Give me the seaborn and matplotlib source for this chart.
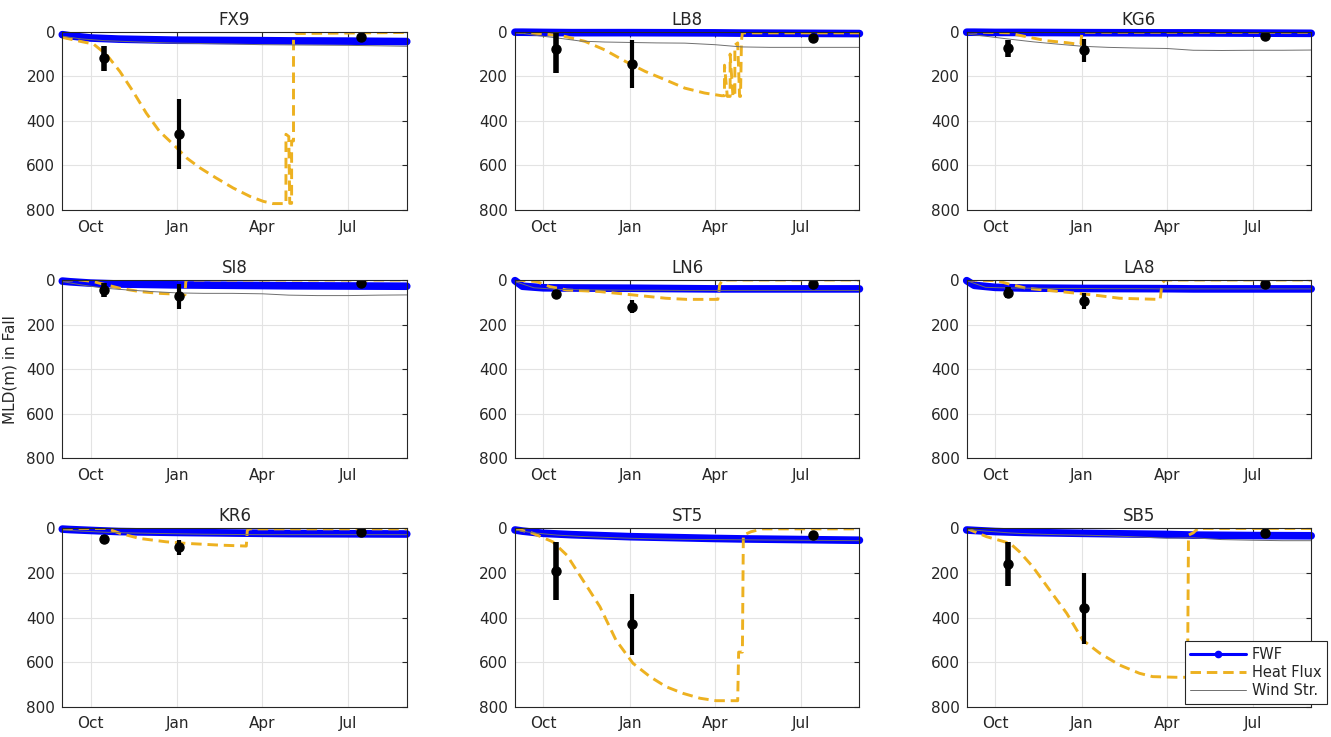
import matplotlib
matplotlib.use("Agg")
import matplotlib.pyplot as plt
from matplotlib.lines import Line2D
import seaborn as sns

# ---------------- data (days since 1 Sep) ----------------
STATIONS = ["FX9", "LB8", "KG6", "SI8", "LN6", "LA8", "KR6", "ST5", "SB5"]
MONTH_TICKS = [30, 122, 212, 303]
MONTH_LABELS = ["Oct", "Jan", "Apr", "Jul"]
DEPTH_TICKS = [0, 200, 400, 600, 800]

# Freshwater-flux (FWF) run
FWF_DAYS = [0, 8, 30, 60, 122, 212, 240, 303, 365]
FWF_FX9 = [13, 18, 28, 33, 38, 40, 41, 42, 44]
FWF_LB8 = [2, 2, 3, 4, 4, 5, 6, 7, 8]
FWF_KG6 = [2, 2, 3, 3, 4, 5, 5, 6, 7]
FWF_SI8 = [5, 8, 14, 18, 22, 25, 26, 27, 28]
FWF_LN6 = [3, 28, 35, 36, 37, 40, 40, 40, 40]
FWF_LA8 = [3, 24, 33, 36, 38, 39, 40, 40, 40]
FWF_KR6 = [3, 5, 9, 14, 18, 22, 23, 24, 25]
FWF_ST5 = [7, 12, 22, 28, 37, 45, 47, 50, 53]
FWF_SB5 = [7, 9, 14, 18, 22, 27, 30, 32, 33]

# Wind-stress run
WIND_DAYS = [0, 20, 45, 70, 95, 122, 150, 180, 212, 240, 270, 303, 335, 365]
WIND_FX9 = [20, 32, 40, 44, 48, 51, 53, 55, 58, 59, 60, 61, 63, 65]
WIND_LB8 = [2, 15, 28, 42, 46, 48, 50, 51, 58, 68, 70, 70, 70, 70]
WIND_KG6 = [10, 20, 33, 45, 55, 65, 70, 73, 75, 83, 84, 83, 83, 82]
WIND_SI8 = [7, 22, 37, 45, 52, 58, 60, 60, 62, 68, 70, 70, 68, 67]
WIND_LN6 = [7, 35, 42, 44, 45, 46, 46, 47, 47, 47, 47, 47, 47, 47]
WIND_LA8 = [3, 33, 36, 37, 38, 38, 39, 39, 40, 40, 40, 40, 40, 40]
WIND_KR6 = [7, 12, 17, 20, 22, 24, 26, 27, 28, 28, 28, 28, 28, 28]
WIND_ST5 = [7, 20, 30, 36, 40, 44, 47, 49, 50, 51, 52, 53, 54, 55]
WIND_SB5 = [4, 12, 20, 25, 28, 30, 33, 38, 44, 42, 50, 53, 55, 55]

# Heat-flux run
HF_FX9_DAYS = [0, 19, 33, 47, 61, 75, 89, 103, 118, 132, 146, 163, 181, 199, 213, 223,
               237, 237, 240, 241, 243, 243, 245, 245, 248, 365]
HF_FX9 = [25, 43, 55, 103, 178, 268, 365, 447, 507, 567, 611, 656, 701, 739, 761, 771,
          771, 460, 470, 770, 770, 490, 490, 35, 8, 3]
HF_LB8_DAYS = [0, 32, 53, 74, 95, 117, 138, 159, 180, 201, 219, 222, 222, 225, 228, 228,
               231, 233, 233, 236, 238, 239, 240, 241, 365]
HF_LB8 = [0, 10, 21, 43, 81, 133, 178, 215, 253, 275, 287, 287, 150, 290, 290, 100,
          290, 290, 60, 50, 290, 290, 40, 5, 5]
HF_KG6_DAYS = [0, 45, 55, 84, 106, 120, 121, 122, 365]
HF_KG6 = [0, 5, 15, 40, 49, 57, 57, 2, 2]
HF_SI8_DAYS = [0, 19, 33, 40, 61, 82, 103, 118, 129, 130, 131, 365]
HF_SI8 = [0, 0, 7, 15, 37, 52, 60, 63, 67, 67, 0, 0]
HF_LN6_DAYS = [0, 23, 37, 55, 90, 125, 160, 182, 213, 215, 217, 220, 365]
HF_LN6 = [0, 7, 30, 45, 52, 67, 82, 87, 87, 87, 20, 0, 0]
HF_LA8_DAYS = [0, 32, 42, 63, 99, 134, 162, 203, 205, 207, 210, 365]
HF_LA8 = [0, 3, 15, 37, 52, 67, 82, 87, 87, 15, 0, 0]
HF_KR6_DAYS = [0, 47, 61, 82, 110, 131, 167, 194, 195, 196, 198, 365]
HF_KR6 = [0, 0, 22, 45, 60, 67, 75, 79, 79, 10, 2, 2]
HF_ST5_DAYS = [0, 19, 40, 55, 72, 90, 107, 125, 143, 160, 178, 196, 213, 236,
               237, 241, 242, 250, 262, 365]
HF_ST5 = [0, 22, 60, 120, 232, 351, 501, 605, 665, 710, 740, 762, 773, 773,
          555, 555, 30, 15, 2, 2]
HF_SB5_DAYS = [0, 21, 46, 56, 70, 88, 106, 123, 141, 162, 183, 197, 222, 234,
               235, 240, 245, 365]
HF_SB5 = [0, 37, 67, 105, 172, 277, 381, 501, 560, 613, 650, 665, 668, 668,
          30, 20, 0, 0]

# Observed MLD (mean and spread)
OBS_DAYS = [44, 124, 316]
OBS_FX9 = [118, 459, 24]
ERR_FX9 = [56, 158, 0]
OBS_LB8 = [76, 144, 28]
ERR_LB8 = [109, 107, 0]
OBS_KG6 = [75, 84, 19]
ERR_KG6 = [40, 52, 0]
OBS_SI8 = [45, 72, 15]
ERR_SI8 = [33, 56, 0]
OBS_LN6 = [64, 120, 19]
ERR_LN6 = [17, 28, 0]
OBS_LA8 = [57, 93, 19]
ERR_LA8 = [24, 36, 0]
OBS_KR6 = [48, 85, 15]
ERR_KR6 = [18, 34, 0]
OBS_ST5 = [191, 431, 30]
ERR_ST5 = [130, 137, 17]
OBS_SB5 = [160, 359, 19]
ERR_SB5 = [98, 160, 0]

FWF = dict(FX9=FWF_FX9, LB8=FWF_LB8, KG6=FWF_KG6, SI8=FWF_SI8, LN6=FWF_LN6,
           LA8=FWF_LA8, KR6=FWF_KR6, ST5=FWF_ST5, SB5=FWF_SB5)
WIND = dict(FX9=WIND_FX9, LB8=WIND_LB8, KG6=WIND_KG6, SI8=WIND_SI8, LN6=WIND_LN6,
            LA8=WIND_LA8, KR6=WIND_KR6, ST5=WIND_ST5, SB5=WIND_SB5)
HF = dict(FX9=(HF_FX9_DAYS, HF_FX9), LB8=(HF_LB8_DAYS, HF_LB8), KG6=(HF_KG6_DAYS, HF_KG6),
          SI8=(HF_SI8_DAYS, HF_SI8), LN6=(HF_LN6_DAYS, HF_LN6), LA8=(HF_LA8_DAYS, HF_LA8),
          KR6=(HF_KR6_DAYS, HF_KR6), ST5=(HF_ST5_DAYS, HF_ST5), SB5=(HF_SB5_DAYS, HF_SB5))
OBS = dict(FX9=(OBS_FX9, ERR_FX9), LB8=(OBS_LB8, ERR_LB8), KG6=(OBS_KG6, ERR_KG6),
           SI8=(OBS_SI8, ERR_SI8), LN6=(OBS_LN6, ERR_LN6), LA8=(OBS_LA8, ERR_LA8),
           KR6=(OBS_KR6, ERR_KR6), ST5=(OBS_ST5, ERR_ST5), SB5=(OBS_SB5, ERR_SB5))

# ---------------- style ----------------
sns.set_theme(style="white")
plt.rcParams["font.family"] = ["DejaVu Sans"]
plt.rcParams.update({
    "axes.edgecolor": "#262626",
    "axes.linewidth": 0.8,
    "xtick.color": "#262626",
    "ytick.color": "#262626",
    "xtick.labelcolor": "#262626",
    "ytick.labelcolor": "#262626",
    "text.color": "#262626",
})

BLUE = "#0000FF"
ORANGE = "#EDB120"
GRAY = "#6f6f6f"

fig = plt.figure(figsize=(13.31, 7.37), dpi=100)
lefts = [0.0468, 0.3869, 0.7263]
bottoms = [0.715, 0.3782, 0.0411]
W, H = 0.2588, 0.2419

for i, st in enumerate(STATIONS):
    r, c = divmod(i, 3)
    ax = fig.add_axes([lefts[c], bottoms[r], W, H])

    sns.lineplot(x=FWF_DAYS, y=FWF[st], ax=ax, color=BLUE, lw=5.5,
                 estimator=None, sort=False, zorder=2, clip_on=False)
    hd, hv = HF[st]
    sns.lineplot(x=hd, y=hv, ax=ax, color=ORANGE, lw=2.1,
                 linestyle=(0, (3.6, 2.0)), estimator=None, sort=False, zorder=3)
    sns.lineplot(x=WIND_DAYS, y=WIND[st], ax=ax, color=GRAY, lw=0.7,
                 estimator=None, sort=False, zorder=4)

    obs, err = OBS[st]
    for k, (d, v, e) in enumerate(zip(OBS_DAYS, obs, err)):
        ax.errorbar([d], [v], yerr=[e], fmt="o", color="black", ms=6.5,
                    elinewidth=4 if k == 0 else 3, capsize=0, zorder=6)

    ax.set_xlim(0, 365)
    ax.set_ylim(800, 0)
    ax.set_xticks(MONTH_TICKS)
    ax.set_xticklabels(MONTH_LABELS)
    ax.set_yticks(DEPTH_TICKS)
    ax.set_yticklabels([str(t) for t in DEPTH_TICKS])
    ax.tick_params(axis="both", direction="in", length=3.5, width=0.8,
                   labelsize=11, top=True, right=True)
    ax.tick_params(axis="x", pad=7)
    ax.tick_params(axis="y", pad=5)
    ax.grid(True, color="#e3e3e3", lw=0.8)
    ax.set_axisbelow(True)
    ax.set_xlabel("")
    ax.set_ylabel("")
    for s in ax.spines.values():
        s.set_visible(True)
        s.set_zorder(7)
    ax.set_title(st, fontsize=12, pad=5, color="#262626")

    if i == 3:
        ax.set_ylabel("MLD(m) in Fall", fontsize=11)
        ax.yaxis.set_label_coords(-0.13, 0.5)

handles = [
    Line2D([], [], color=BLUE, lw=2.2, marker="o", ms=4.5),
    Line2D([], [], color=ORANGE, lw=2.1, linestyle=(0, (3.6, 2.0))),
    Line2D([], [], color=GRAY, lw=0.7),
]
leg = fig.legend(handles, ["FWF", "Heat Flux", "Wind Str."],
                 loc="lower left", bbox_to_anchor=(0.890, 0.0448),
                 fontsize=10.5, frameon=True, fancybox=False, framealpha=1,
                 edgecolor="#262626", handlelength=3.8, handletextpad=0.4,
                 borderpad=0.4, labelspacing=0.22, borderaxespad=0)
leg.get_frame().set_linewidth(0.8)
leg.set_zorder(20)

fig.savefig("out.png", dpi=100, facecolor="white")
